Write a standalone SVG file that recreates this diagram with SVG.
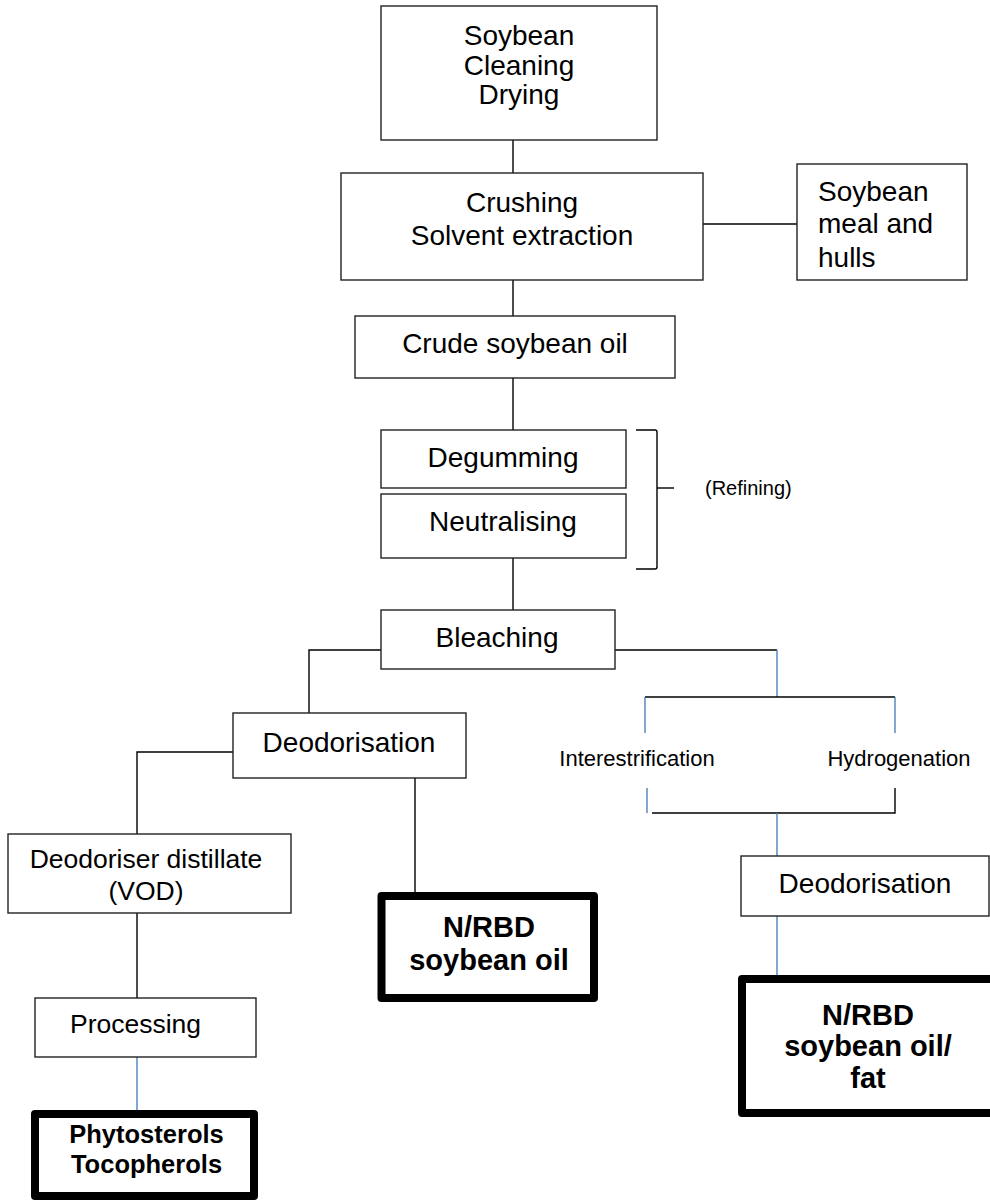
<svg xmlns="http://www.w3.org/2000/svg" width="990" height="1204" viewBox="0 0 990 1204">
<style>
  .box { fill: #fff; stroke: #222; stroke-width: 1.4; }
  .bold { fill: #fff; stroke: #000; stroke-width: 8; stroke-linejoin: round; }
  .t { font-family: "Liberation Sans", Arial, sans-serif; font-size: 28px; fill: #000; text-anchor: middle; }
  .s { font-size: 22px; }
  .m { font-size: 26.5px; }
  .b { font-weight: bold; font-size: 29px; }
  .k { stroke: #000; stroke-width: 1.4; fill: none; }
  .u { stroke: #4F81BD; stroke-width: 1.4; fill: none; }
</style>
<rect width="990" height="1204" fill="#fff"/>
<g id="connectors">
  <path class="k" d="M513,140 V173"/>
  <path class="k" d="M703,224 H797"/>
  <path class="k" d="M513,280 V316"/>
  <path class="k" d="M513,378 V430"/>
  <path class="k" d="M513,558 V610"/>
  <path class="k" d="M636,430 H655 Q657,430 657,432 V567 Q657,569 655,569 H636"/>
  <path class="k" d="M657,488 H674"/>
  <path class="k" d="M381,650 H309 V713"/>
  <path class="k" d="M615,650 H777"/>
  <path class="u" d="M777,650 V697"/>
  <path class="k" d="M645,697 H895"/>
  <path class="u" d="M645,697 V733"/>
  <path class="u" d="M895,697 V733"/>
  <path class="u" d="M647,788 V813"/>
  <path class="k" d="M895,788 V813 H652"/>
  <path class="u" d="M777,813 V856"/>
  <path class="u" d="M777,916 V975"/>
  <path class="k" d="M233,752 H137 V834"/>
  <path class="k" d="M415,778 V892"/>
  <path class="k" d="M137,913 V998"/>
  <path class="u" d="M137,1057 V1110"/>
</g>
<g id="soybean">
  <rect class="box" x="381" y="6" width="276" height="134"/>
  <text class="t" x="519" y="45">Soybean</text>
  <text class="t" x="519" y="75">Cleaning</text>
  <text class="t" x="519" y="104">Drying</text>
</g>
<g id="crushing">
  <rect class="box" x="341" y="173" width="362" height="107"/>
  <text class="t" x="522" y="212">Crushing</text>
  <text class="t" x="522" y="245">Solvent extraction</text>
</g>
<g id="meal">
  <rect class="box" x="797" y="164" width="170" height="116"/>
  <text class="t" x="818" y="201" style="text-anchor:start">Soybean</text>
  <text class="t" x="818" y="233" style="text-anchor:start">meal and</text>
  <text class="t" x="818" y="267" style="text-anchor:start">hulls</text>
</g>
<g id="crude">
  <rect class="box" x="355" y="316" width="320" height="62"/>
  <text class="t" x="515" y="353">Crude soybean oil</text>
</g>
<g id="degumming">
  <rect class="box" x="381" y="430" width="245" height="58"/>
  <text class="t" x="503" y="467">Degumming</text>
</g>
<g id="neutralising">
  <rect class="box" x="381" y="494" width="245" height="64"/>
  <text class="t" x="503" y="531">Neutralising</text>
</g>
<g id="refining">
  <text class="t" x="705" y="495" style="font-size:20px;text-anchor:start">(Refining)</text>
</g>
<g id="bleaching">
  <rect class="box" x="381" y="610" width="234" height="59"/>
  <text class="t" x="497" y="647">Bleaching</text>
</g>
<g id="deodorisation1">
  <rect class="box" x="233" y="713" width="233" height="65"/>
  <text class="t" x="349" y="752">Deodorisation</text>
</g>
<g id="interestrification">
  <text class="t s" x="637" y="766">Interestrification</text>
</g>
<g id="hydrogenation">
  <text class="t s" x="899" y="766">Hydrogenation</text>
</g>
<g id="deodorisation2">
  <rect class="box" x="741" y="856" width="248" height="60"/>
  <text class="t" x="865" y="893">Deodorisation</text>
</g>
<g id="distillate">
  <rect class="box" x="8" y="834" width="283" height="79"/>
  <text class="t m" x="146" y="868">Deodoriser distillate</text>
  <text class="t m" x="146" y="900">(VOD)</text>
</g>
<g id="processing">
  <rect class="box" x="35" y="998" width="221" height="59"/>
  <text class="t m" x="70" y="1033" style="text-anchor:start">Processing</text>
</g>
<g id="phytosterols">
  <rect class="bold" x="35" y="1114" width="219" height="82"/>
  <text class="t b" x="146.5" y="1143" style="font-size:25.5px">Phytosterols</text>
  <text class="t b" x="146.5" y="1173" style="font-size:25.5px">Tocopherols</text>
</g>
<g id="nrbd-oil">
  <rect class="bold" x="381.5" y="896" width="212.5" height="102"/>
  <text class="t b" x="489" y="937">N/RBD</text>
  <text class="t b" x="489" y="970">soybean oil</text>
</g>
<g id="nrbd-fat">
  <rect class="bold" x="742" y="979" width="252" height="134"/>
  <text class="t b" x="868" y="1025">N/RBD</text>
  <text class="t b" x="868" y="1056">soybean oil/</text>
  <text class="t b" x="868" y="1088">fat</text>
</g>
</svg>
